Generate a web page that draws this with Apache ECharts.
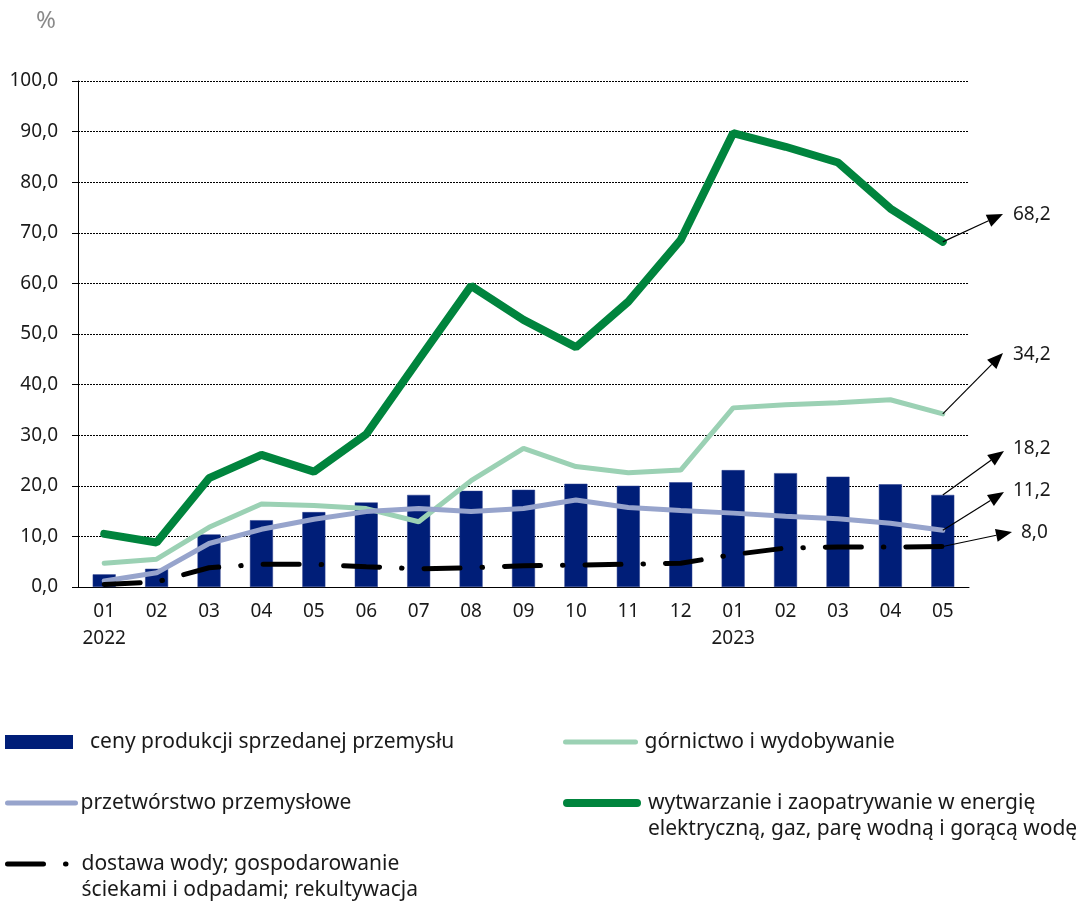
<!DOCTYPE html>
<html>
<head>
<meta charset="utf-8">
<script src="https://cdn.jsdelivr.net/npm/echarts@6/dist/echarts.min.js"></script>
<style>html,body{margin:0;padding:0;background:#fff;}#c{width:1084px;height:902px;}</style>
</head>
<body>
<div id="c"></div>
<script>
// ---- data ----
const months = ['01','02','03','04','05','06','07','08','09','10','11','12','01','02','03','04','05'];
const years = {0: '2022', 12: '2023'};
const yTicks = [0,10,20,30,40,50,60,70,80,90,100];

const nameCeny = 'ceny produkcji sprzedanej przemysłu';
const nameGorn = 'górnictwo i wydobywanie';
const namePrzetw = 'przetwórstwo przemysłowe';
const nameWytw = 'wytwarzanie i zaopatrywanie w energię elektryczną, gaz, parę wodną i gorącą wodę';
const nameDost = 'dostawa wody; gospodarowanie ściekami i odpadami; rekultywacja';
const labelWytw = ['wytwarzanie i zaopatrywanie w energię', 'elektryczną, gaz, parę wodną i gorącą wodę'];
const labelDost = ['dostawa wody; gospodarowanie', 'ściekami i odpadami; rekultywacja'];

const ceny = [2.5, 3.6, 10.4, 13.2, 14.8, 16.7, 18.2, 19.0, 19.2, 20.4, 20.0, 20.7, 23.1, 22.5, 21.8, 20.3, 18.2];
const gornictwo = [4.7, 5.5, 11.8, 16.4, 16.1, 15.5, 12.9, 21.0, 27.4, 23.8, 22.6, 23.1, 35.4, 36.0, 36.4, 37.0, 34.2];
const przetworstwo = [1.2, 2.8, 8.6, 11.4, 13.4, 14.9, 15.5, 14.9, 15.5, 17.2, 15.7, 15.1, 14.6, 14.0, 13.5, 12.6, 11.2];
const wytwarzanie = [10.5, 8.8, 21.5, 26.1, 22.8, 30.2, 44.9, 59.5, 52.8, 47.4, 56.4, 68.6, 89.7, 87.0, 83.9, 74.8, 68.2];
const dostawa = [0.5, 1.0, 3.8, 4.5, 4.5, 4.0, 3.6, 3.8, 4.2, 4.3, 4.5, 4.7, 6.4, 7.7, 7.9, 7.9, 8.0];

// ---- styles ----
const FONT = 'Noto Sans';
const TXT = '#1a1a1a';
const C_BAR = '#001E78';
const C_GORN = '#9BD1B4';
const C_PRZ = '#97A4CC';
const C_WYT = '#00843D';
const C_DOST = '#000000';
const fmt = v => v.toFixed(1).replace('.', ',');
const LFS = 21; // legend font size

const chart = echarts.init(document.getElementById('c'), null, {renderer: 'canvas'});

function legend(name, left, top, w, h, lineW, padLeft, formatter, icon) {
  const l = {
    data: [name], left: left, top: top, padding: 0, itemWidth: w, itemHeight: h,
    selectedMode: false, orient: 'horizontal',
    itemStyle: {color: 'rgba(0,0,0,0)', borderWidth: 0, opacity: 0},
    textStyle: {fontFamily: FONT, fontSize: LFS, color: TXT, lineHeight: 26, padding: [0, 0, 0, padLeft]}
  };
  if (lineW) l.lineStyle = {width: lineW};
  if (formatter) l.formatter = formatter;
  if (icon) { l.icon = icon; l.itemStyle = {color: C_BAR, borderWidth: 0}; }
  return l;
}

const option = {
  backgroundColor: '#fff',
  animation: false,
  textStyle: {fontFamily: FONT},
  title: {text: '%', left: 31, top: 4, textStyle: {color: '#8a8a8a', fontSize: 24, fontWeight: 'normal', fontFamily: FONT}},
  grid: {left: 78, right: 115, top: 81, bottom: 315, containLabel: false},
  xAxis: {
    type: 'category', data: months, boundaryGap: true,
    axisLine: {lineStyle: {color: '#000', width: 1}},
    axisTick: {inside: true, length: 6, alignWithLabel: false, lineStyle: {color: '#000'}},
    axisLabel: {
      fontFamily: FONT, fontSize: 19, color: TXT, margin: 11, lineHeight: 27, interval: 0,
      formatter: (v, i) => years[i] ? v + '\n' + years[i] : v
    },
    splitLine: {show: false}
  },
  yAxis: {
    type: 'value', min: yTicks[0], max: yTicks[yTicks.length - 1], interval: yTicks[1] - yTicks[0],
    axisLine: {show: true, lineStyle: {color: '#000', width: 1}},
    axisTick: {show: true, length: 6, lineStyle: {color: '#000'}},
    axisLabel: {fontFamily: FONT, fontSize: 19, color: TXT, margin: 20, formatter: fmt},
    splitLine: {show: true, lineStyle: {color: '#000', width: 1, type: [2, 1]}}
  },
  legend: [
    legend(nameCeny, 5, 729, 68, 14, 0, 12, null, 'rect'),
    legend(nameGorn, 563, 729, 70, 14, 5, 4),
    legend(namePrzetw, 5, 790, 68, 14, 5, 0),
    legend(nameWytw, 563, 764, 70, 14, 8, 6, () => '\n' + labelWytw.join('\n')),
    legend(nameDost, 5, 825, 60, 14, 5, 9, () => '\n' + labelDost.join('\n'))
  ],
  series: [
    {name: nameCeny, type: 'bar', data: ceny, barWidth: 23,
      itemStyle: {color: C_BAR, borderColor: '#2a3f8c', borderWidth: 0.5}},
    {name: nameGorn, type: 'line', data: gornictwo, symbol: 'none',
      lineStyle: {color: C_GORN, width: 5, cap: 'round'}, itemStyle: {color: C_GORN}},
    {name: namePrzetw, type: 'line', data: przetworstwo, symbol: 'none',
      lineStyle: {color: C_PRZ, width: 5, cap: 'round'}, itemStyle: {color: C_PRZ}},
    {name: nameWytw, type: 'line', data: wytwarzanie, symbol: 'none',
      lineStyle: {color: C_WYT, width: 8, cap: 'round'}, itemStyle: {color: C_WYT}},
    {name: nameDost, type: 'line', data: dostawa, symbol: 'none',
      lineStyle: {color: C_DOST, width: 5, cap: 'round', type: [36, 22, 0.5, 22]}, itemStyle: {color: C_DOST}}
  ]
};
chart.setOption(option);

// ---- annotations: arrows from last points to value labels ----
const last = months.length - 1;
const annots = [
  {data: wytwarzanie, tip: [1003, 214], text: [1013, 215]},
  {data: gornictwo, tip: [1003, 353], text: [1013, 355]},
  {data: ceny, tip: [1004, 451], text: [1013, 449]},
  {data: przetworstwo, tip: [1004, 492], text: [1013, 491]},
  {data: dostawa, tip: [1012, 532], text: [1021, 533]}
];
const graphics = [];
annots.forEach(a => {
  const v = a.data[last];
  const p0 = chart.convertToPixel({gridIndex: 0}, [last, v]);
  const p1 = a.tip;
  const ang = Math.atan2(p1[1] - p0[1], p1[0] - p0[0]);
  const L = 16, W = 6.5;
  const c = Math.cos(ang), s = Math.sin(ang);
  const b = [p1[0] - L * c, p1[1] - L * s];
  graphics.push({type: 'line', z: 100, shape: {x1: p0[0], y1: p0[1], x2: b[0], y2: b[1]}, style: {stroke: '#000', lineWidth: 1.2}});
  graphics.push({type: 'polygon', z: 100, shape: {points: [p1, [b[0] - W * s, b[1] + W * c], [b[0] + W * s, b[1] - W * c]]}, style: {fill: '#000'}});
  graphics.push({type: 'text', z: 100, x: a.text[0], y: a.text[1], style: {text: fmt(v), fontFamily: FONT, fontSize: 19, fill: TXT, verticalAlign: 'middle', align: 'left'}});
});
chart.setOption({graphic: graphics});
</script>
</body>
</html>
